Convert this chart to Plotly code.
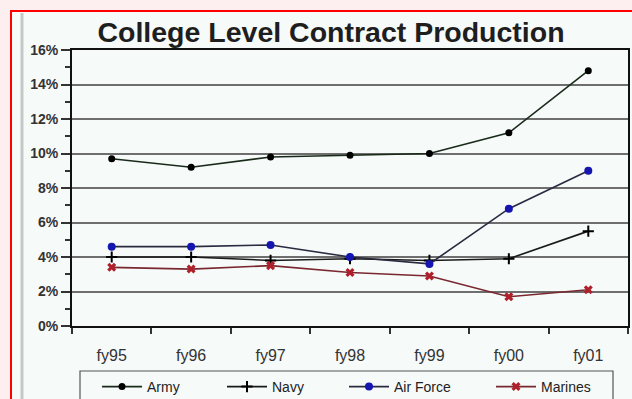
import plotly.graph_objects as go

categories = ["fy95", "fy96", "fy97", "fy98", "fy99", "fy00", "fy01"]
army = [9.7, 9.2, 9.8, 9.9, 10.0, 11.2, 14.8]
navy = [4.0, 4.0, 3.8, 3.9, 3.8, 3.9, 5.5]
air_force = [4.6, 4.6, 4.7, 4.0, 3.6, 6.8, 9.0]
marines = [3.4, 3.3, 3.5, 3.1, 2.9, 1.7, 2.1]
y_ticks = [0, 2, 4, 6, 8, 10, 12, 14, 16]
y_tick_text = ["0%", "2%", "4%", "6%", "8%", "10%", "12%", "14%", "16%"]

W, H = 632, 399
L, R, T, B = 72, 4, 50, 73
pw, ph = W - L - R, H - T - B

def px(x):
    return (x - L) / pw

def py(y):
    return (H - B - y) / ph

fig = go.Figure()
fig.add_trace(go.Scatter(x=categories, y=army, name="Army", mode="lines+markers", legend="legend",
                         line=dict(color="#1a2a1a", width=1.6),
                         marker=dict(symbol="circle", size=7, color="#000000")))
fig.add_trace(go.Scatter(x=categories, y=navy, name="Navy", mode="lines+markers", legend="legend2",
                         line=dict(color="#1a1a1a", width=1.6),
                         marker=dict(symbol="cross-thin", size=8,
                                     line=dict(color="#000000", width=2))))
fig.add_trace(go.Scatter(x=categories, y=air_force, name="Air Force", mode="lines+markers",
                         legend="legend3",
                         line=dict(color="#2a2a40", width=1.6),
                         marker=dict(symbol="circle", size=8, color="#1515b0")))
fig.add_trace(go.Scatter(x=categories, y=marines, name="Marines", mode="lines+markers",
                         legend="legend4",
                         line=dict(color="#7a2830", width=1.6),
                         marker=dict(symbol="x", size=8, color="#b0202a")))

shapes = [
    dict(type="rect", xref="paper", yref="paper", x0=px(11), x1=px(660), y0=py(430), y1=py(11),
         line=dict(color="#ff0000", width=2), fillcolor="#f6faf9", layer="below"),
    dict(type="line", xref="paper", yref="paper", x0=px(22), x1=px(22), y0=py(430), y1=py(13),
         line=dict(color="#c4c8c6", width=3), layer="below"),
    dict(type="rect", xref="paper", yref="paper", x0=px(80), x1=px(613), y0=py(430), y1=py(371),
         line=dict(color="#555555", width=1.2), fillcolor="rgba(0,0,0,0)", layer="above"),
]

def leg(xpix):
    return dict(orientation="h", x=xpix / W, xref="container", xanchor="left",
                y=1 - 371 / H, yref="container", yanchor="top",
                bgcolor="rgba(0,0,0,0)", borderwidth=0,
                font=dict(size=14, color="#222222"), itemwidth=40)

fig.update_layout(
    width=W, height=H,
    margin=dict(l=L, r=R, t=T, b=B, pad=0),
    paper_bgcolor="#fdeff0",
    plot_bgcolor="rgba(0,0,0,0)",
    font=dict(family="Liberation Sans, Arial, sans-serif", color="#222222"),
    title=dict(text="<b>College Level Contract Production</b>", x=331 / W, xanchor="center",
               y=1 - 32 / H, yanchor="middle", xref="container", yref="container",
               font=dict(size=28.5, color="#1e1e1e")),
    showlegend=True,
    legend=leg(97),
    legend2=leg(222),
    legend3=leg(344),
    legend4=leg(491),
    shapes=shapes,
)
fig.update_xaxes(
    type="category", showgrid=False, showline=True, linecolor="#111111", linewidth=2,
    mirror=True, ticks="outside", tickson="boundaries", ticklen=6, tickcolor="#333333",
    tickwidth=1.5, tickfont=dict(size=16, color="#333333"), range=[-0.5, 6.5],
    ticklabelstandoff=14, automargin=False,
)
fig.update_yaxes(
    range=[0, 16], tickvals=y_ticks, ticktext=y_tick_text, showgrid=True,
    gridcolor="#6e6e6e", gridwidth=2, showline=True, linecolor="#111111", linewidth=2,
    mirror=True, ticks="outside", ticklen=9, tickcolor="#333333", tickwidth=1.5,
    tickfont=dict(size=14, color="#333333", weight="bold"), zeroline=False, automargin=False,
    minor=dict(dtick=1, ticks="outside", ticklen=5, tickcolor="#333333", showgrid=False),
)

fig.write_html("out.html")
